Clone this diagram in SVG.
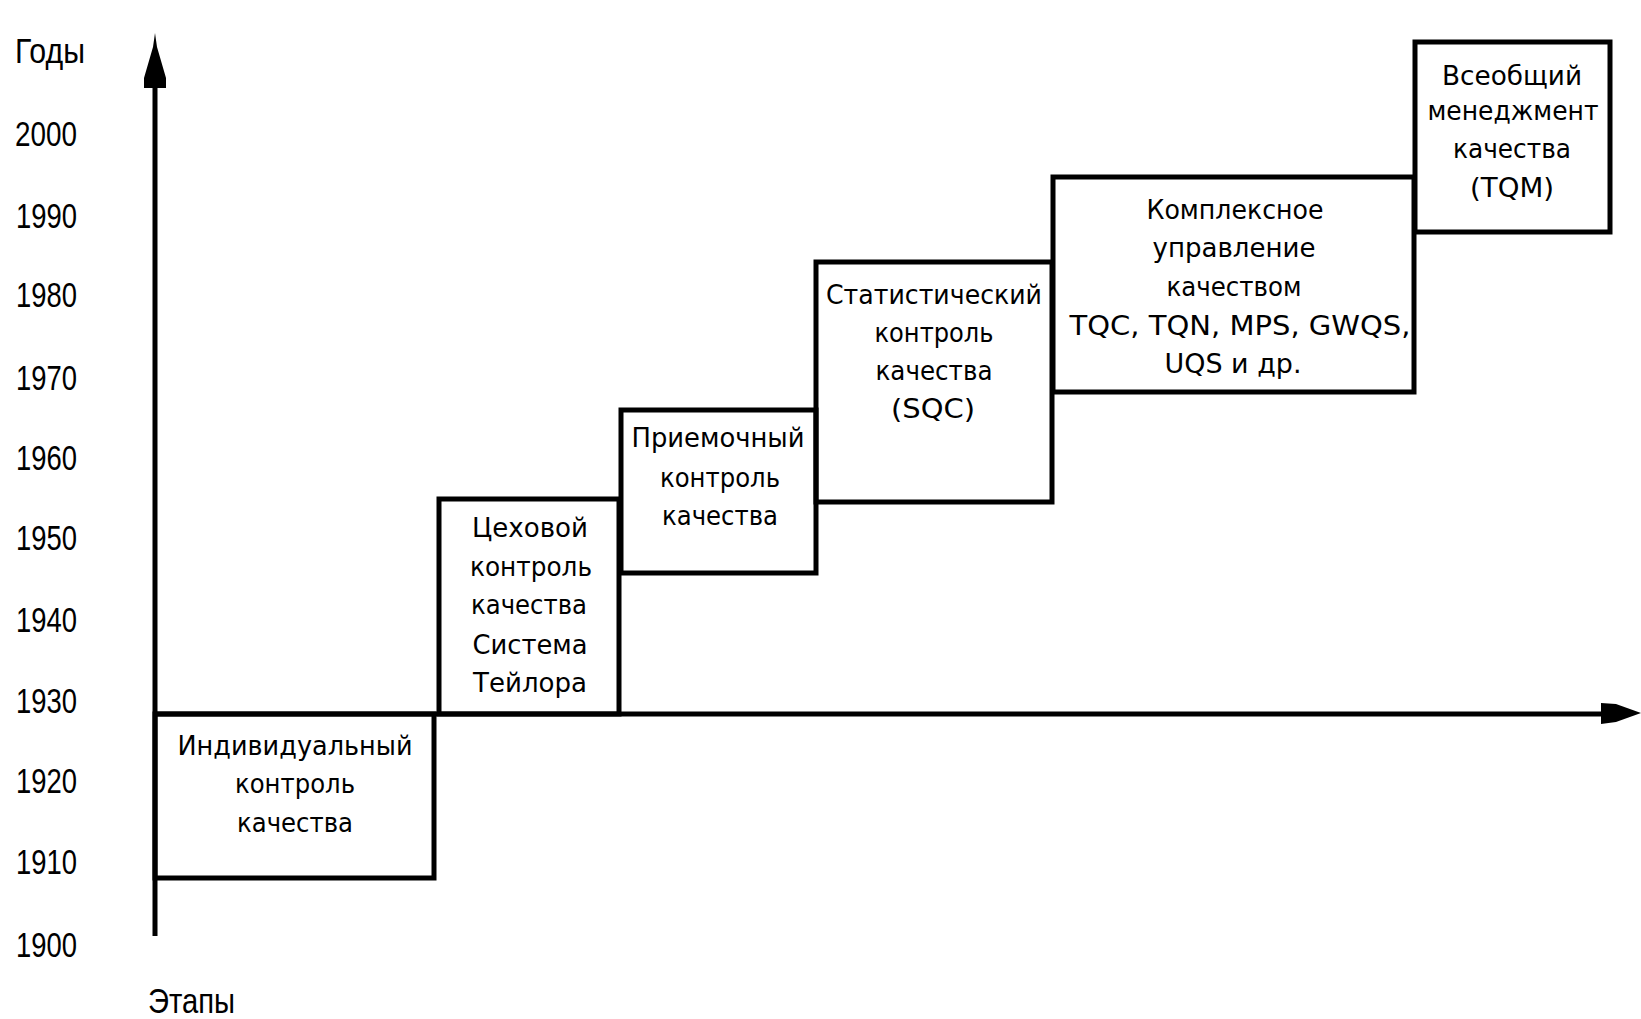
<svg xmlns="http://www.w3.org/2000/svg" width="1641" height="1019" viewBox="0 0 1641 1019">
<style>
.box{fill:none;stroke:#000;stroke-width:5}
.ax{stroke:#000;stroke-width:5;fill:none}
.yr{font-family:"Liberation Sans",Arial,sans-serif;font-size:35px;fill:#000}
.t{font-family:"DejaVu Sans","Liberation Sans",sans-serif;font-size:26px;fill:#000;text-anchor:middle}
</style>
<rect width="1641" height="1019" fill="#fff"/>
<g id="labels">
<text class="yr" x="15" y="63" textLength="70" lengthAdjust="spacingAndGlyphs">Годы</text>
<text class="yr" x="15" y="146" textLength="62" lengthAdjust="spacingAndGlyphs">2000</text>
<text class="yr" x="16" y="228" textLength="61" lengthAdjust="spacingAndGlyphs">1990</text>
<text class="yr" x="16" y="307" textLength="61" lengthAdjust="spacingAndGlyphs">1980</text>
<text class="yr" x="16" y="390" textLength="61" lengthAdjust="spacingAndGlyphs">1970</text>
<text class="yr" x="16" y="470" textLength="61" lengthAdjust="spacingAndGlyphs">1960</text>
<text class="yr" x="16" y="550" textLength="61" lengthAdjust="spacingAndGlyphs">1950</text>
<text class="yr" x="16" y="632" textLength="61" lengthAdjust="spacingAndGlyphs">1940</text>
<text class="yr" x="16" y="713" textLength="61" lengthAdjust="spacingAndGlyphs">1930</text>
<text class="yr" x="16" y="793" textLength="61" lengthAdjust="spacingAndGlyphs">1920</text>
<text class="yr" x="16" y="874" textLength="61" lengthAdjust="spacingAndGlyphs">1910</text>
<text class="yr" x="16" y="957" textLength="61" lengthAdjust="spacingAndGlyphs">1900</text>
<text class="yr" x="148" y="1013" textLength="87" lengthAdjust="spacingAndGlyphs">Этапы</text>
</g>
<g id="connectors">
<line class="ax" x1="155" y1="86" x2="155" y2="936"/>
<polygon points="155,33 157,47 166,78 166,88 144,88 144,78 153,47" fill="#000"/>
<line class="ax" x1="155" y1="714" x2="1605" y2="714"/>
<polygon points="1601,703 1616,704 1641,713 1616,722 1601,724" fill="#000"/>
</g>
<g id="node-individual">
<rect class="box" x="155" y="714" width="279" height="164"/>
<text class="t" x="295" y="755" textLength="235" lengthAdjust="spacingAndGlyphs">Индивидуальный</text>
<text class="t" x="295" y="793" textLength="120" lengthAdjust="spacingAndGlyphs">контроль</text>
<text class="t" x="295" y="832" textLength="116" lengthAdjust="spacingAndGlyphs">качества</text>
</g>
<g id="node-shop">
<rect class="box" x="439" y="499" width="180" height="215"/>
<text class="t" x="530" y="537" textLength="116" lengthAdjust="spacingAndGlyphs">Цеховой</text>
<text class="t" x="531" y="576" textLength="122" lengthAdjust="spacingAndGlyphs">контроль</text>
<text class="t" x="529" y="614" textLength="116" lengthAdjust="spacingAndGlyphs">качества</text>
<text class="t" x="530" y="654" textLength="115" lengthAdjust="spacingAndGlyphs">Система</text>
<text class="t" x="530" y="692" textLength="114" lengthAdjust="spacingAndGlyphs">Тейлора</text>
</g>
<g id="node-acceptance">
<rect class="box" x="621" y="410" width="195" height="163"/>
<text class="t" x="718" y="447" textLength="173" lengthAdjust="spacingAndGlyphs">Приемочный</text>
<text class="t" x="720" y="487" textLength="120" lengthAdjust="spacingAndGlyphs">контроль</text>
<text class="t" x="720" y="525" textLength="116" lengthAdjust="spacingAndGlyphs">качества</text>
</g>
<g id="node-sqc">
<rect class="box" x="816" y="262" width="236" height="240"/>
<text class="t" x="934" y="304" textLength="216" lengthAdjust="spacingAndGlyphs">Статистический</text>
<text class="t" x="934" y="342" textLength="119" lengthAdjust="spacingAndGlyphs">контроль</text>
<text class="t" x="934" y="380" textLength="117" lengthAdjust="spacingAndGlyphs">качества</text>
<text class="t" x="933" y="418" textLength="84" lengthAdjust="spacingAndGlyphs">(SQC)</text>
</g>
<g id="node-complex">
<rect class="box" x="1053" y="177" width="361" height="215"/>
<text class="t" x="1235" y="219" textLength="177" lengthAdjust="spacingAndGlyphs">Комплексное</text>
<text class="t" x="1234" y="257" textLength="163" lengthAdjust="spacingAndGlyphs">управление</text>
<text class="t" x="1234" y="296" textLength="135" lengthAdjust="spacingAndGlyphs">качеством</text>
<text class="t" x="1240" y="335" textLength="341" lengthAdjust="spacingAndGlyphs">TQC, TQN, MPS, GWQS,</text>
<text class="t" x="1233" y="373" textLength="137" lengthAdjust="spacingAndGlyphs">UQS и др.</text>
</g>
<g id="node-tqm">
<rect class="box" x="1415" y="42" width="195" height="190"/>
<text class="t" x="1512" y="85" textLength="140" lengthAdjust="spacingAndGlyphs">Всеобщий</text>
<text class="t" x="1513" y="120" textLength="171" lengthAdjust="spacingAndGlyphs">менеджмент</text>
<text class="t" x="1512" y="158" textLength="118" lengthAdjust="spacingAndGlyphs">качества</text>
<text class="t" x="1512" y="197" textLength="84" lengthAdjust="spacingAndGlyphs">(TQM)</text>
</g>
</svg>
